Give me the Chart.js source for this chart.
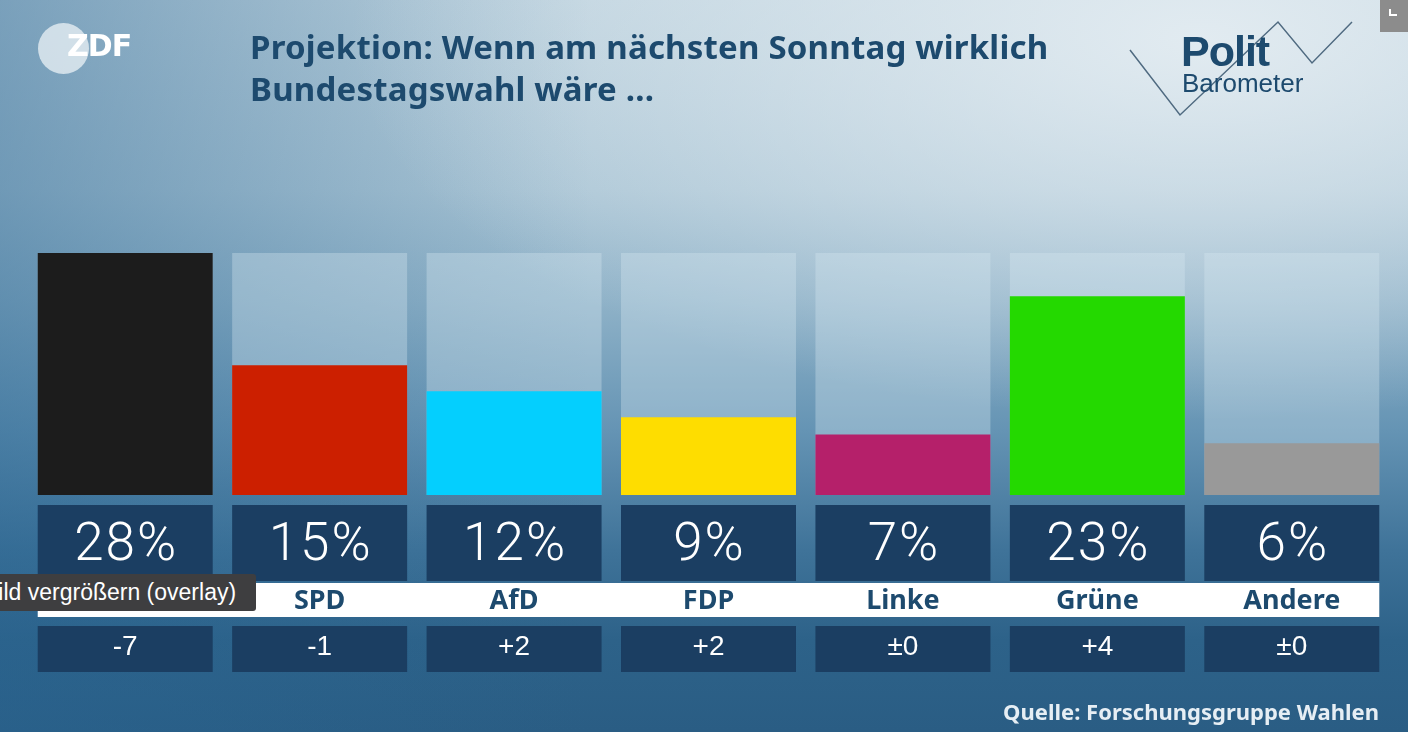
<!DOCTYPE html>
<html lang="de">
<head>
    <meta charset="UTF-8">
    <title>Politbarometer Projektion</title>
    <script src="https://cdn.jsdelivr.net/npm/chart.js"></script>
    <style>
        html, body { margin: 0; padding: 0; }
        body {
            width: 1408px; height: 732px; overflow: hidden; position: relative;
            background:
                radial-gradient(ellipse 850px 380px at 1200px 40px, rgba(230,238,243,0.9), rgba(230,238,243,0) 100%),
                linear-gradient(90deg, rgba(40,100,145,0.45) 0%, rgba(40,100,145,0) 42%),
                linear-gradient(180deg, #bdd2de 0px, #aac5d5 190px, #8fb2c8 300px, #6594b4 430px, #3f7399 550px, #2d6289 640px, #2a5d84 732px);
        }
        #chart { position: absolute; left: 0; top: 0; }
        .title {
            position: absolute; left: 250px; top: 26px;
            font-family: "Noto Sans", sans-serif; font-weight: bold; font-size: 33px;
            line-height: 42px; color: #1d4a6e; letter-spacing: 0.2px;
        }
        .zdf-circle {
            position: absolute; left: 38px; top: 23px; width: 51px; height: 51px;
            border-radius: 50%; background: rgba(240,245,248,0.72);
        }
        .zdf-text {
            position: absolute; left: 67px; top: 28px;
            font-family: "DejaVu Sans", sans-serif; font-weight: bold; font-size: 30px;
            color: #ffffff; letter-spacing: -1px;
        }
        .pb { position: absolute; left: 1120px; top: 10px; }
        .pb-polit {
            position: absolute; left: 1181px; top: 30px;
            font-family: "Liberation Sans", Arial, sans-serif; font-weight: bold; font-size: 43px;
            color: #1d4a6e; letter-spacing: -1px; line-height: 43px;
        }
        .pb-baro {
            position: absolute; left: 1182px; top: 69px;
            font-family: "Liberation Sans", Arial, sans-serif; font-size: 26px;
            color: #1d4a6e; line-height: 28px;
        }
        .corner {
            position: absolute; left: 1380px; top: 0; width: 28px; height: 32px; background: #8c8c8c;
        }
        .corner:after {
            content: ""; position: absolute; left: 9px; top: 9px; width: 6px; height: 5px;
            border-left: 2px solid #fff; border-bottom: 2px solid #fff;
        }
        .tip {
            position: absolute; left: -27px; top: 574px; width: 283px; height: 37px;
            background: #3e3e40; border-radius: 3px; color: #fff;
            font-family: "Liberation Sans", Arial, sans-serif; font-size: 23px;
            line-height: 37px; padding-left: 10px; box-sizing: border-box; white-space: nowrap;
        }
    </style>
</head>
<body>
    <canvas id="chart" width="1408" height="732"></canvas>

    <div class="zdf-circle"></div>
    <div class="zdf-text">ZDF</div>
    <div class="title">Projektion: Wenn am nächsten Sonntag wirklich<br>Bundestagswahl wäre ...</div>

    <svg class="pb" width="250" height="120" viewBox="0 0 250 120">
        <polyline points="10,40 60,105 158,12 192,53 232,12" fill="none" stroke="#4f6a80" stroke-width="1.5"/>
    </svg>
    <div class="pb-polit">Polit</div>
    <div class="pb-baro">Barometer</div>
    <div class="corner"></div>

    <script>
        // Werte aus dem Bild
        const parties = ["CDU/CSU", "SPD", "AfD", "FDP", "Linke", "Grüne", "Andere"];
        const shares = [28, 15, 12, 9, 7, 23, 6];
        const changes = ["-7", "-1", "+2", "+2", "±0", "+4", "±0"];
        const colors = ["#1c1c1c", "#cc1f00", "#04cffe", "#fedd00", "#b5206a", "#24d900", "#999999"];
        const maxShare = 28;
        const source = "Quelle: Forschungsgruppe Wahlen";

        const boxColor = "#1b3e62";

        // Kästen unter den Balken: Prozent, Partei, Veränderung
        const boxesPlugin = {
            id: "boxes",
            afterDatasetsDraw(chart) {
                const ctx = chart.ctx;
                const meta = chart.getDatasetMeta(0);
                const bottom = chart.chartArea.bottom;
                const first = meta.data[0], last = meta.data[meta.data.length - 1];

                ctx.save();
                // weißer Streifen für die Parteinamen
                ctx.fillStyle = "#ffffff";
                ctx.fillRect(first.x - first.width / 2, bottom + 88, (last.x + last.width / 2) - (first.x - first.width / 2), 34);

                meta.data.forEach((bar, i) => {
                    const left = bar.x - bar.width / 2;
                    ctx.fillStyle = boxColor;
                    ctx.fillRect(left, bottom + 10, bar.width, 76);
                    ctx.fillRect(left, bottom + 131, bar.width, 46);

                    ctx.textAlign = "center";
                    ctx.textBaseline = "middle";
                    ctx.fillStyle = "#ffffff";
                    ctx.font = "300 53px Roboto, 'Liberation Sans', sans-serif";
                    ctx.letterSpacing = "2px";
                    ctx.fillText(shares[i] + "%", bar.x + 1, bottom + 52);
                    ctx.letterSpacing = "0px";

                    ctx.font = "28px 'Liberation Sans', Arial, sans-serif";
                    ctx.fillText(changes[i], bar.x, bottom + 152);

                    ctx.fillStyle = "#1d4a6e";
                    ctx.font = "bold 27px 'Noto Sans', sans-serif";
                    ctx.fillText(parties[i], bar.x, bottom + 106);
                });

                ctx.textAlign = "right";
                ctx.textBaseline = "alphabetic";
                ctx.fillStyle = "#e6eef4";
                ctx.font = "bold 22px 'Noto Sans', sans-serif";
                ctx.fillText(source, chart.chartArea.right - 10, 720);
                ctx.restore();
            }
        };

        new Chart(document.getElementById("chart"), {
            type: "bar",
            data: {
                labels: parties,
                datasets: [
                    {
                        label: "Projektion",
                        data: shares,
                        backgroundColor: colors,
                        grouped: false,
                        categoryPercentage: 0.9,
                        barPercentage: 1.0
                    },
                    {
                        label: "Skala",
                        data: parties.map(() => maxShare),
                        backgroundColor: "rgba(215,232,241,0.35)",
                        grouped: false,
                        categoryPercentage: 0.9,
                        barPercentage: 1.0
                    }
                ]
            },
            options: {
                responsive: false,
                animation: false,
                devicePixelRatio: 1,
                layout: { padding: { left: 28, right: 19, top: 253, bottom: 237 } },
                plugins: {
                    legend: { display: false },
                    tooltip: { enabled: false },
                    title: { display: false }
                },
                scales: {
                    x: { display: false },
                    y: { display: false, min: 0, max: maxShare }
                }
            },
            plugins: [boxesPlugin]
        });
    </script>

    <div class="tip">Bild vergrößern (overlay)</div>
</body>
</html>
